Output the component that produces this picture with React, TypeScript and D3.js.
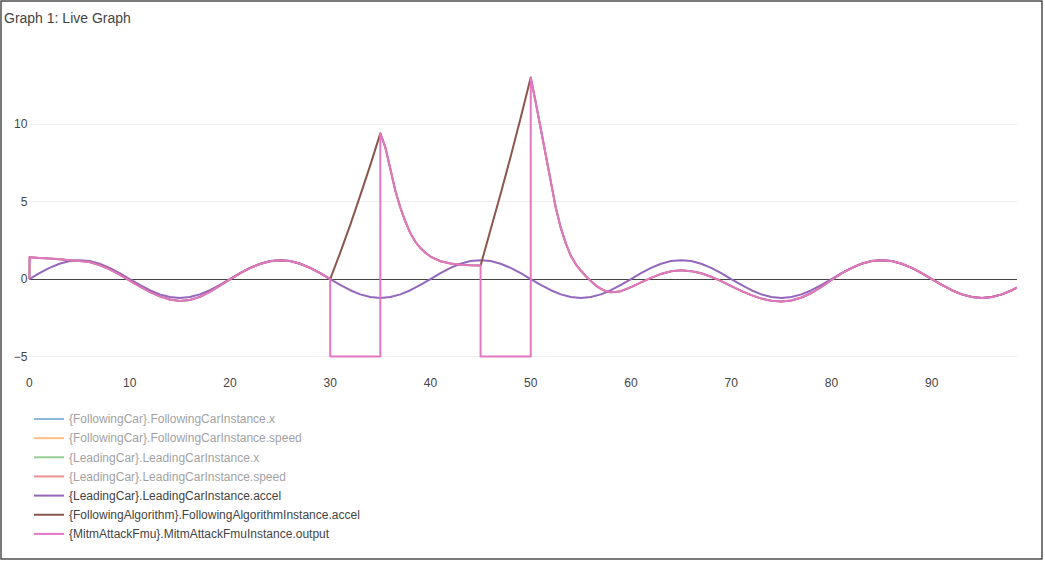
import React from 'react';
import * as d3 from 'd3';

type Point = [number, number];

// legend entries, in trace order
const seriesNames = [
  '{FollowingCar}.FollowingCarInstance.x',
  '{FollowingCar}.FollowingCarInstance.speed',
  '{LeadingCar}.LeadingCarInstance.x',
  '{LeadingCar}.LeadingCarInstance.speed',
  '{LeadingCar}.LeadingCarInstance.accel',
  '{FollowingAlgorithm}.FollowingAlgorithmInstance.accel',
  '{MitmAttackFmu}.MitmAttackFmuInstance.output',
];
const seriesColors = ['#1f77b4', '#ff7f0e', '#2ca02c', '#d62728', '#9467bd', '#8c564b', '#e377c2'];
const seriesVisible = [false, false, false, false, true, true, true];

const xTicks = [0, 10, 20, 30, 40, 50, 60, 70, 80, 90];
const yTicks = [-5, 0, 5, 10];

// {LeadingCar}.LeadingCarInstance.accel
const leadingAccel: Point[] = [
  [0, 0], [1, 0.38], [2, 0.72], [3, 0.99], [4, 1.16], [5, 1.22], [6, 1.16], [7, 0.99], [8, 0.72], [9, 0.38],
  [10, 0], [11, -0.38], [12, -0.72], [13, -0.99], [14, -1.16], [15, -1.22], [16, -1.16], [17, -0.99], [18, -0.72], [19, -0.38],
  [20, 0], [21, 0.38], [22, 0.72], [23, 0.99], [24, 1.16], [25, 1.22], [26, 1.16], [27, 0.99], [28, 0.72], [29, 0.38],
  [30, 0], [31, -0.38], [32, -0.72], [33, -0.99], [34, -1.16], [35, -1.22], [36, -1.16], [37, -0.99], [38, -0.72], [39, -0.38],
  [40, 0], [41, 0.38], [42, 0.72], [43, 0.99], [44, 1.16], [45, 1.22], [46, 1.16], [47, 0.99], [48, 0.72], [49, 0.38],
  [50, 0], [51, -0.38], [52, -0.72], [53, -0.99], [54, -1.16], [55, -1.22], [56, -1.16], [57, -0.99], [58, -0.72], [59, -0.38],
  [60, 0], [61, 0.38], [62, 0.72], [63, 0.99], [64, 1.16], [65, 1.22], [66, 1.16], [67, 0.99], [68, 0.72], [69, 0.38],
  [70, 0], [71, -0.38], [72, -0.72], [73, -0.99], [74, -1.16], [75, -1.22], [76, -1.16], [77, -0.99], [78, -0.72], [79, -0.38],
  [80, 0], [81, 0.38], [82, 0.72], [83, 0.99], [84, 1.16], [85, 1.22], [86, 1.16], [87, 0.99], [88, 0.72], [89, 0.38],
  [90, 0], [91, -0.38], [92, -0.72], [93, -0.99], [94, -1.16], [95, -1.22], [96, -1.16], [97, -0.99], [98, -0.72], [98.5, -0.55],
];

// {FollowingAlgorithm}.FollowingAlgorithmInstance.accel
const followingAccel: Point[] = [
  [0, 0], [0.02, 1.4], [1, 1.36], [2, 1.32], [3, 1.27], [4, 1.22], [5, 1.17], [6, 1.1], [7, 0.9], [8, 0.62], [9, 0.28],
  [10, -0.1], [11, -0.48], [12, -0.83], [13, -1.12], [14, -1.32], [15, -1.41], [16, -1.35], [17, -1.15], [18, -0.83], [19, -0.43],
  [20, -0.02], [21, 0.36], [22, 0.7], [23, 0.97], [24, 1.15], [25, 1.21], [26, 1.16], [27, 0.99], [28, 0.72], [29, 0.38],
  [30, 0], [31, 1.7], [32, 3.5], [33, 5.4], [34, 7.35], [35, 9.4],
  [35.5, 8.5], [36, 7.1], [36.5, 5.7], [37, 4.6], [37.5, 3.7], [38, 2.95], [38.5, 2.4], [39, 2.0], [39.5, 1.7],
  [40, 1.45], [41, 1.15], [42, 1.0], [43, 0.93], [44, 0.89], [45, 0.87],
  [46, 3.2], [47, 5.5], [48, 7.9], [49, 10.4], [50, 13.0],
  [50.5, 11.4], [51, 9.7], [51.5, 8.0], [52, 6.3], [52.5, 4.6], [53, 3.3], [53.5, 2.3], [54, 1.5], [54.5, 0.95],
  [55, 0.55], [55.5, 0.18], [56, -0.12], [56.5, -0.42], [57, -0.63], [57.5, -0.78], [58, -0.86], [59, -0.78],
  [60, -0.52], [61, -0.22], [62, 0.08], [63, 0.33], [64, 0.5], [65, 0.56], [66, 0.51], [67, 0.37], [68, 0.15], [69, -0.13],
  [70, -0.45], [71, -0.76], [72, -1.04], [73, -1.26], [74, -1.4], [75, -1.45], [76, -1.38], [77, -1.19], [78, -0.9], [79, -0.5],
  [80, -0.06], [81, 0.36], [82, 0.71], [83, 0.99], [84, 1.16], [85, 1.22], [86, 1.16], [87, 0.99], [88, 0.72], [89, 0.38],
  [90, 0], [91, -0.38], [92, -0.72], [93, -0.99], [94, -1.16], [95, -1.22], [96, -1.16], [97, -0.99], [98, -0.72], [98.5, -0.55],
];

// {MitmAttackFmu}.MitmAttackFmuInstance.output (-5 during the attack windows)
const mitmOutput: Point[] = [
  [0, 0], [0.02, 1.4], [1, 1.36], [2, 1.32], [3, 1.27], [4, 1.22], [5, 1.17], [6, 1.1], [7, 0.9], [8, 0.62], [9, 0.28],
  [10, -0.1], [11, -0.48], [12, -0.83], [13, -1.12], [14, -1.32], [15, -1.41], [16, -1.35], [17, -1.15], [18, -0.83], [19, -0.43],
  [20, -0.02], [21, 0.36], [22, 0.7], [23, 0.97], [24, 1.15], [25, 1.21], [26, 1.16], [27, 0.99], [28, 0.72], [29, 0.38],
  [30, 0], [30, -5], [31, -5], [32, -5], [33, -5], [34, -5], [35, -5], [35, 9.4],
  [35.5, 8.5], [36, 7.1], [36.5, 5.7], [37, 4.6], [37.5, 3.7], [38, 2.95], [38.5, 2.4], [39, 2.0], [39.5, 1.7],
  [40, 1.45], [41, 1.15], [42, 1.0], [43, 0.93], [44, 0.89], [45, 0.87],
  [45, -5], [46, -5], [47, -5], [48, -5], [49, -5], [50, -5], [50, 13.0],
  [50.5, 11.4], [51, 9.7], [51.5, 8.0], [52, 6.3], [52.5, 4.6], [53, 3.3], [53.5, 2.3], [54, 1.5], [54.5, 0.95],
  [55, 0.55], [55.5, 0.18], [56, -0.12], [56.5, -0.42], [57, -0.63], [57.5, -0.78], [58, -0.86], [59, -0.78],
  [60, -0.52], [61, -0.22], [62, 0.08], [63, 0.33], [64, 0.5], [65, 0.56], [66, 0.51], [67, 0.37], [68, 0.15], [69, -0.13],
  [70, -0.45], [71, -0.76], [72, -1.04], [73, -1.26], [74, -1.4], [75, -1.45], [76, -1.38], [77, -1.19], [78, -0.9], [79, -0.5],
  [80, -0.06], [81, 0.36], [82, 0.71], [83, 0.99], [84, 1.16], [85, 1.22], [86, 1.16], [87, 0.99], [88, 0.72], [89, 0.38],
  [90, 0], [91, -0.38], [92, -0.72], [93, -0.99], [94, -1.16], [95, -1.22], [96, -1.16], [97, -0.99], [98, -0.72], [98.5, -0.55],
];

// only the visible traces carry data on the plot
const plotted: { data: Point[]; color: string }[] = [
  { data: leadingAccel, color: seriesColors[4] },
  { data: followingAccel, color: seriesColors[5] },
  { data: mitmOutput, color: seriesColors[6] },
];

const width = 1045;
const height = 563;
const plot = { left: 29.4, right: 1017, top: 63.6, bottom: 370.5 };
const font = '"Liberation Sans", Arial, sans-serif';

// keep 1px rules on a pixel row so they render crisp
const crisp = (v: number) => Math.floor(v) + 0.5;

export default function App() {
  const xScale = d3.scaleLinear().domain([0, 98.5]).range([plot.left, plot.right]);
  const yScale = d3.scaleLinear().domain([-5.9, 13.9]).range([plot.bottom, plot.top]);

  const line = d3
    .line<Point>()
    .x(d => xScale(d[0]))
    .y(d => yScale(d[1]));

  return (
    <svg
      width={width}
      height={height}
      style={{ position: 'absolute', left: 0, top: 0, background: '#fff' }}
      fontFamily={font}
    >
      <rect x={1} y={1} width={1041} height={558} fill="#fff" stroke="#333" strokeWidth={1.3} />

      <text x={4} y={22.7} fontSize={14} fill="#444">
        Graph 1: Live Graph
      </text>

      {/* grid */}
      {yTicks.filter(t => t !== 0).map(t => (
        <line
          key={`g${t}`}
          x1={plot.left}
          x2={plot.right}
          y1={crisp(yScale(t))}
          y2={crisp(yScale(t))}
          stroke="#eee"
          strokeWidth={1}
        />
      ))}
      <line
        x1={plot.left}
        x2={plot.right}
        y1={crisp(yScale(0))}
        y2={crisp(yScale(0))}
        stroke="#444"
        strokeWidth={1}
      />

      {/* tick labels */}
      {yTicks.map(t => (
        <text key={`y${t}`} x={plot.left - 2} y={yScale(t)} dy="0.36em" textAnchor="end" fontSize={12} fill="#444">
          {t < 0 ? `\u2212${Math.abs(t)}` : t}
        </text>
      ))}
      {xTicks.map(t => (
        <text key={`x${t}`} x={xScale(t)} y={plot.bottom + 16} textAnchor="middle" fontSize={12} fill="#444">
          {t}
        </text>
      ))}

      {/* traces */}
      <defs>
        <clipPath id="plotClip">
          <rect x={plot.left - 2} y={plot.top - 20} width={plot.right - plot.left + 2} height={plot.bottom - plot.top + 40} />
        </clipPath>
      </defs>
      <g clipPath="url(#plotClip)">
        {plotted.map((s, i) => (
          <path key={i} d={line(s.data) ?? ''} fill="none" stroke={s.color} strokeWidth={2} strokeLinejoin="round" />
        ))}
      </g>

      {/* legend */}
      {seriesNames.map((name, i) => {
        const y = 419 + i * 19.15;
        return (
          <g key={name} opacity={seriesVisible[i] ? 1 : 0.5}>
            <line x1={34} x2={64} y1={y} y2={y} stroke={seriesColors[i]} strokeWidth={2} />
            <text x={69} y={y} dy="0.36em" fontSize={12} fill="#444">
              {name}
            </text>
          </g>
        );
      })}
    </svg>
  );
}
